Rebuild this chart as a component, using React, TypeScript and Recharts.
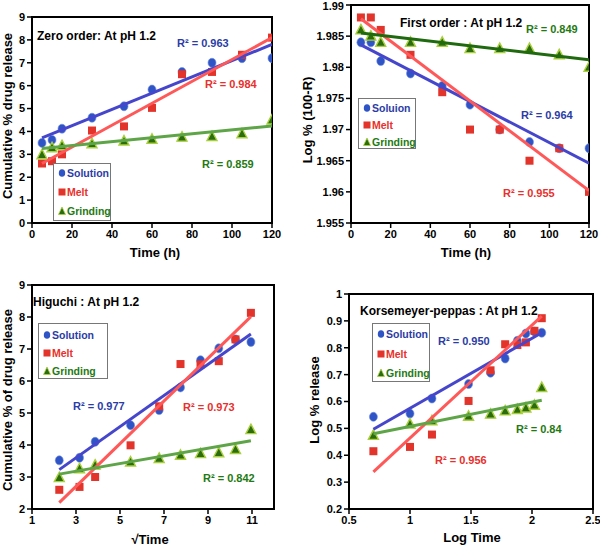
import React from "react";
import { ScatterChart, Scatter, XAxis, YAxis, ReferenceArea } from "recharts";

// ---- data ----
const zeroTime = [5, 10, 15, 30, 46, 60, 75, 90, 105, 120];
const zeroSolution = [3.5, 3.63, 4.12, 4.6, 5.1, 5.83, 6.6, 7.0, 7.2, 7.2];
const zeroMelt = [2.6, 2.7, 3.0, 4.04, 4.22, 5.03, 6.5, 6.6, 7.35, 8.1];
const zeroGrinding = [2.98, 3.29, 3.38, 3.46, 3.58, 3.66, 3.75, 3.78, 3.9, 4.5];
const zeroFitX = [5, 120];
const zeroSolutionFit = [3.72, 7.8];
const zeroMeltFit = [2.6, 8.1];
const zeroGrindingFit = [3.25, 4.24];

const firstTime = [5, 10, 15, 30, 46, 60, 75, 90, 105, 120];
const firstSolution = [1.984, 1.984, 1.981, 1.979, 1.977, 1.974, 1.97, 1.968, 1.967, 1.967];
const firstMelt = [1.988, 1.988, 1.986, 1.982, 1.976, 1.97, 1.97, 1.965, 1.967, 1.96];
const firstGrinding = [1.986, 1.985, 1.984, 1.984, 1.984, 1.983, 1.983, 1.983, 1.982, 1.98];
const firstFitX = [5, 120];
const firstSolutionFit = [1.9836, 1.9646];
const firstMeltFit = [1.9878, 1.9602];
const firstGrindingFit = [1.9855, 1.9812];

const sqrtTime = [2.24, 3.16, 3.87, 5.48, 6.78, 7.75, 8.66, 9.49, 10.25, 10.95];
const higSolution = [3.52, 3.6, 4.1, 4.62, 5.09, 5.8, 6.65, 7.02, 7.3, 7.22];
const higMelt = [2.6, 2.69, 3.0, 3.99, 5.21, 6.53, 6.52, 6.62, 7.3, 8.13];
const higGrinding = [2.98, 3.26, 3.37, 3.47, 3.58, 3.68, 3.73, 3.76, 3.86, 4.48];
const higFitX = [2.24, 10.95];
const higSolutionFit = [3.23, 7.47];
const higMeltFit = [2.2, 8.01];
const higGrindingFit = [3.09, 4.13];

const logTime = [0.7, 1.0, 1.18, 1.48, 1.66, 1.78, 1.88, 1.95, 2.02, 2.08];
const korSolution = [0.543, 0.555, 0.611, 0.665, 0.707, 0.76, 0.826, 0.853, 0.86, 0.856];
const korMelt = [0.415, 0.431, 0.477, 0.602, 0.716, 0.813, 0.81, 0.82, 0.863, 0.91];
const korGrinding = [0.474, 0.516, 0.528, 0.545, 0.553, 0.565, 0.57, 0.576, 0.586, 0.652];
const korFitX = [0.7, 2.08];
const korSolutionFit = [0.497, 0.856];
const korMeltFit = [0.338, 0.918];
const korGrindingFit = [0.48, 0.605];

const zeroXTicks = [0, 20, 40, 60, 80, 100, 120];
const zeroYTicks = [0, 1, 2, 3, 4, 5, 6, 7, 8, 9];
const firstYTicks = [1.955, 1.96, 1.965, 1.97, 1.975, 1.98, 1.985, 1.99];
const higXTicks = [1, 3, 5, 7, 9, 11];
const higYTicks = [2, 3, 4, 5, 6, 7, 8, 9];
const korXTicks = [0.5, 1, 1.5, 2, 2.5];
const korYTicks = [0.2, 0.3, 0.4, 0.5, 0.6, 0.7, 0.8, 0.9, 1];

const FONT = '"Liberation Sans", Arial, sans-serif';
const BLUE_TXT = "#2b3ca6";
const RED_TXT = "#e8302c";
const GREEN_TXT = "#1f7a12";

const pts = (xs: number[], ys: number[]) => xs.map((x, i) => ({ x, y: ys[i] }));
const fmt = (v: number) => String(Number(v.toFixed(3)));

const Circle = (p: any) => (
  <ellipse cx={p.cx} cy={p.cy} rx={4} ry={4.5} fill="#2f54c6" stroke="#6f8be0" strokeWidth={0.6} />
);
const Square = (p: any) => <rect x={p.cx - 4} y={p.cy - 4} width={8} height={8} fill="#e2342b" />;
const Tri = (p: any) => (
  <path
    d={`M${p.cx},${p.cy - 5.5}L${p.cx + 5},${p.cy + 4}L${p.cx - 5},${p.cy + 4}Z`}
    fill="#2c6c10"
    stroke="#a9cf3d"
    strokeWidth={1.4}
  />
);
const NoShape = () => <g />;

const tickStyle = { fill: "#000", fontSize: 11, fontWeight: "bold", fontFamily: FONT };

function Legend({ left, top, w, h, first, rows }: any) {
  const item = (icon: any, label: string, color: string, y: number) => (
    <div style={{ position: "absolute", left: 4, top: y, display: "flex", alignItems: "center" }}>
      <svg width={8} height={8} style={{ marginRight: 1 }}>{icon}</svg>
      <span style={{ color, fontSize: 10.5, fontWeight: "bold", fontFamily: FONT }}>{label}</span>
    </div>
  );
  return (
    <div style={{ position: "absolute", left, top, width: w, height: h, border: "1px solid #777", background: "#fff" }}>
      {item(<ellipse cx={4} cy={4} rx={3.2} ry={3.8} fill="#2f54c6" />, first, BLUE_TXT, rows[0])}
      {item(<rect x={0.5} y={0.5} width={7} height={7} fill="#e2342b" />, "Melt", RED_TXT, rows[1])}
      {item(<path d="M4,0L7.5,7.5L0.5,7.5Z" fill="#2c6c10" stroke="#a9cf3d" strokeWidth={0.8} />, "Grinding", GREEN_TXT, rows[2])}
    </div>
  );
}

function Panel(props: any) {
  const { left, top, width, height, margin, xDomain, yDomain, xTicks, yTicks, yWidth, data, lines, texts, legend } = props;
  return (
    <div style={{ position: "absolute", left, top, width, height }}>
      <ScatterChart width={width} height={height} margin={margin} style={{ fontFamily: FONT }}>
        <XAxis
          type="number"
          dataKey="x"
          domain={xDomain}
          ticks={xTicks}
          tickFormatter={fmt}
          height={20}
          axisLine={{ stroke: "#000", strokeWidth: 2 }}
          tickLine={{ stroke: "#000", strokeWidth: 1.5 }}
          tickSize={5}
          tick={tickStyle}
          allowDataOverflow
        />
        <YAxis
          type="number"
          dataKey="y"
          domain={yDomain}
          ticks={yTicks}
          tickFormatter={fmt}
          width={yWidth}
          axisLine={{ stroke: "#000", strokeWidth: 2 }}
          tickLine={{ stroke: "#000", strokeWidth: 1.5 }}
          tickSize={5}
          tick={tickStyle}
          allowDataOverflow
        />
        <ReferenceArea x1={xDomain[0]} x2={xDomain[1]} y1={yDomain[0]} y2={yDomain[1]} fill="none" stroke="#000" strokeWidth={2} fillOpacity={0} />
        <Scatter data={data[0]} shape={Circle} isAnimationActive={false} />
        <Scatter data={data[1]} shape={Square} isAnimationActive={false} />
        <Scatter data={data[2]} shape={Tri} isAnimationActive={false} />
        {lines.map((l: any, i: number) => (
          <Scatter key={i} data={l.data} shape={NoShape} line={{ stroke: l.color, strokeWidth: 3 }} isAnimationActive={false} />
        ))}
      </ScatterChart>
      <svg width={width} height={height} style={{ position: "absolute", left: 0, top: 0, pointerEvents: "none" }}>
        {texts.map((t: any, i: number) => (
          <text
            key={i}
            x={t.x}
            y={t.y}
            fill={t.color || "#000"}
            fontSize={t.size || 11}
            fontWeight="bold"
            fontFamily={FONT}
            textAnchor={t.anchor || "start"}
            transform={t.rotate ? `rotate(-90 ${t.x} ${t.y})` : undefined}
          >
            {t.text}
          </text>
        ))}
      </svg>
      <Legend {...legend} />
    </div>
  );
}

export default function App() {
  return (
    <div style={{ position: "absolute", left: 0, top: 0, width: 600, height: 547, background: "#fff" }}>
      <Panel
        left={0}
        top={0}
        width={300}
        height={270}
        margin={{ top: 17, right: 28, bottom: 27, left: 2 }}
        yWidth={30}
        xDomain={[0, 120]}
        yDomain={[0, 9]}
        xTicks={zeroXTicks}
        yTicks={zeroYTicks}
        data={[pts(zeroTime, zeroSolution), pts(zeroTime, zeroMelt), pts(zeroTime, zeroGrinding)]}
        lines={[
          { data: pts(zeroFitX, zeroSolutionFit), color: "#4646cc" },
          { data: pts(zeroFitX, zeroMeltFit), color: "#ff5858" },
          { data: pts(zeroFitX, zeroGrindingFit), color: "#5ea548" },
        ]}
        texts={[
          { x: 37, y: 40, text: "Zero order: At pH 1.2", size: 12 },
          { x: 177, y: 47, text: "R² = 0.963", color: BLUE_TXT },
          { x: 205, y: 88, text: "R² = 0.984", color: RED_TXT },
          { x: 202, y: 168, text: "R² = 0.859", color: GREEN_TXT },
          { x: 155, y: 257, text: "Time (h)", size: 13, anchor: "middle" },
          { x: 12, y: 116, text: "Cumulative % drug release", size: 13, anchor: "middle", rotate: true },
        ]}
        legend={{ left: 53, top: 163, w: 56, h: 56, first: "Solution", rows: [3, 22, 41] }}
      />
      <Panel
        left={300}
        top={0}
        width={300}
        height={270}
        margin={{ top: 5, right: 11, bottom: 27, left: 11 }}
        yWidth={40}
        xDomain={[0, 120]}
        yDomain={[1.955, 1.99]}
        xTicks={zeroXTicks}
        yTicks={firstYTicks}
        data={[pts(firstTime, firstSolution), pts(firstTime, firstMelt), pts(firstTime, firstGrinding)]}
        lines={[
          { data: pts(firstFitX, firstSolutionFit), color: "#4646cc" },
          { data: pts(firstFitX, firstMeltFit), color: "#ff5858" },
          { data: pts(firstFitX, firstGrindingFit), color: "#1f6a0e" },
        ]}
        texts={[
          { x: 100, y: 27, text: "First order : At pH 1.2", size: 12 },
          { x: 226, y: 33, text: "R² = 0.849", color: GREEN_TXT },
          { x: 221, y: 119, text: "R² = 0.964", color: BLUE_TXT },
          { x: 203, y: 197, text: "R² = 0.955", color: RED_TXT },
          { x: 166, y: 257, text: "Time (h)", size: 13, anchor: "middle" },
          { x: 12, y: 120, text: "Log % (100-R)", size: 13, anchor: "middle", rotate: true },
        ]}
        legend={{ left: 58, top: 98, w: 56, h: 49, first: "Soluion", rows: [3, 20, 37] }}
      />
      <Panel
        left={0}
        top={270}
        width={300}
        height={277}
        margin={{ top: 15, right: 26, bottom: 18, left: 2 }}
        yWidth={30}
        xDomain={[1, 12]}
        yDomain={[2, 9]}
        xTicks={higXTicks}
        yTicks={higYTicks}
        data={[pts(sqrtTime, higSolution), pts(sqrtTime, higMelt), pts(sqrtTime, higGrinding)]}
        lines={[
          { data: pts(higFitX, higSolutionFit), color: "#4646cc" },
          { data: pts(higFitX, higMeltFit), color: "#ff5858" },
          { data: pts(higFitX, higGrindingFit), color: "#5ea548" },
        ]}
        texts={[
          { x: 33, y: 36, text: "Higuchi : At pH 1.2", size: 12 },
          { x: 73, y: 140, text: "R² = 0.977", color: BLUE_TXT },
          { x: 183, y: 141, text: "R² = 0.973", color: RED_TXT },
          { x: 203, y: 212, text: "R² = 0.842", color: GREEN_TXT },
          { x: 150, y: 274, text: "√Time", size: 13, anchor: "middle" },
          { x: 12, y: 130, text: "Cumulative % of drug release", size: 13, anchor: "middle", rotate: true },
        ]}
        legend={{ left: 38, top: 53, w: 68, h: 54, first: "Solution", rows: [5, 23, 41] }}
      />
      <Panel
        left={300}
        top={270}
        width={300}
        height={277}
        margin={{ top: 24, right: 7, bottom: 18, left: 9 }}
        yWidth={40}
        xDomain={[0.5, 2.5]}
        yDomain={[0.2, 1]}
        xTicks={korXTicks}
        yTicks={korYTicks}
        data={[pts(logTime, korSolution), pts(logTime, korMelt), pts(logTime, korGrinding)]}
        lines={[
          { data: pts(korFitX, korSolutionFit), color: "#4646cc" },
          { data: pts(korFitX, korMeltFit), color: "#ff5858" },
          { data: pts(korFitX, korGrindingFit), color: "#5ea548" },
        ]}
        texts={[
          { x: 60, y: 45, text: "Korsemeyer-peppas : At pH 1.2", size: 12 },
          { x: 138, y: 75, text: "R² = 0.950", color: BLUE_TXT },
          { x: 135, y: 194, text: "R² = 0.956", color: RED_TXT },
          { x: 216, y: 163, text: "R² = 0.84", color: GREEN_TXT },
          { x: 172, y: 272, text: "Log Time", size: 13, anchor: "middle" },
          { x: 19, y: 130, text: "Log % release", size: 13, anchor: "middle", rotate: true },
        ]}
        legend={{ left: 72, top: 53, w: 56, h: 57, first: "Solution", rows: [4, 24, 43] }}
      />
    </div>
  );
}
